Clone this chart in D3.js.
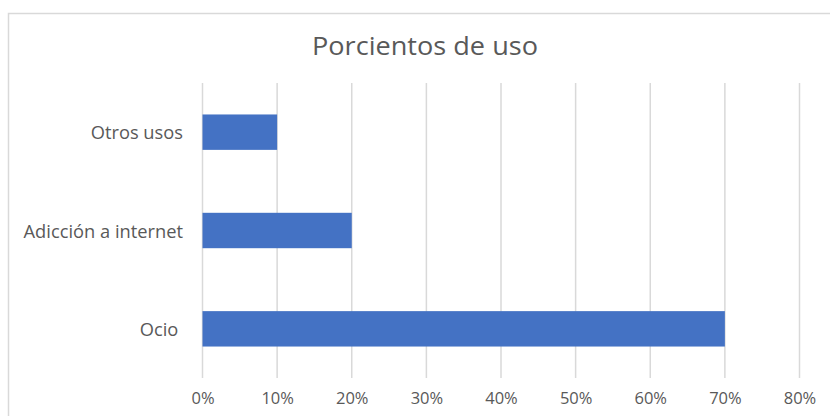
<!DOCTYPE html>
<html>
<head>
<meta charset="utf-8">
<script src="https://cdn.jsdelivr.net/npm/d3@7"></script>
<style>
  html, body { margin: 0; padding: 0; background: #fff; }
  svg { display: block; }
  text { font-family: "Open Sans", "DejaVu Sans", sans-serif; fill: #595959; }
</style>
</head>
<body>
<script>
const title = "Porcientos de uso";
const categories = ["Otros usos", "Adicción a internet", "Ocio "];
const values = [0.10, 0.20, 0.70];
const tickValues = [0, 0.1, 0.2, 0.3, 0.4, 0.5, 0.6, 0.7, 0.8];
const tickLabels = ["0%", "10%", "20%", "30%", "40%", "50%", "60%", "70%", "80%"];

const W = 830, H = 416;
const svg = d3.select("body").append("svg").attr("width", W).attr("height", H);

// chart border (extends past right/bottom edge as in the reference)
svg.append("rect")
  .attr("x", 8.5).attr("y", 13.5)
  .attr("width", W + 10).attr("height", H + 10)
  .attr("fill", "#fff").attr("stroke", "#d9d9d9").attr("stroke-width", 1.5);

const x = d3.scaleLinear().domain([0, 0.8]).range([202.5, 799.5]);
const y = d3.scaleBand().domain(categories).range([83, 378])
  .paddingInner(0.64).paddingOuter(0.32);

// title
svg.append("text")
  .attr("x", 425).attr("y", 55)
  .attr("text-anchor", "middle")
  .attr("font-size", 25)
  .attr("textLength", 226).attr("lengthAdjust", "spacingAndGlyphs")
  .text(title);

// gridlines
svg.append("g").selectAll("line").data(tickValues).join("line")
  .attr("x1", d => x(d)).attr("x2", d => x(d))
  .attr("y1", 83).attr("y2", 378)
  .attr("stroke", "#d9d9d9").attr("stroke-width", 1.5);

// bars
svg.append("g").selectAll("rect").data(values).join("rect")
  .attr("x", x(0))
  .attr("y", (d, i) => y(categories[i]))
  .attr("width", d => x(d) - x(0))
  .attr("height", y.bandwidth())
  .attr("fill", "#4472c4");

// x tick labels
const xAxis = d3.axisBottom(x).tickValues(tickValues)
  .tickFormat((d, i) => tickLabels[i]).tickSize(0).tickPadding(0);
const gx = svg.append("g").attr("transform", "translate(0,392)").call(xAxis);
gx.select(".domain").remove();
gx.selectAll("text")
  .attr("font-size", 16.5)
  .style("font-family", "'Open Sans', 'DejaVu Sans', sans-serif")
  .attr("fill", "#595959");

// category labels
const yAxis = d3.axisLeft(y).tickSize(0).tickPadding(0);
const gy = svg.append("g").attr("transform", "translate(183,0)").call(yAxis);
gy.select(".domain").remove();
gy.selectAll("text")
  .attr("font-size", 18.3)
  .attr("dy", "0.4em")
  .style("white-space", "pre")
  .style("font-family", "'Open Sans', 'DejaVu Sans', sans-serif")
  .attr("fill", "#595959");
</script>
</body>
</html>
